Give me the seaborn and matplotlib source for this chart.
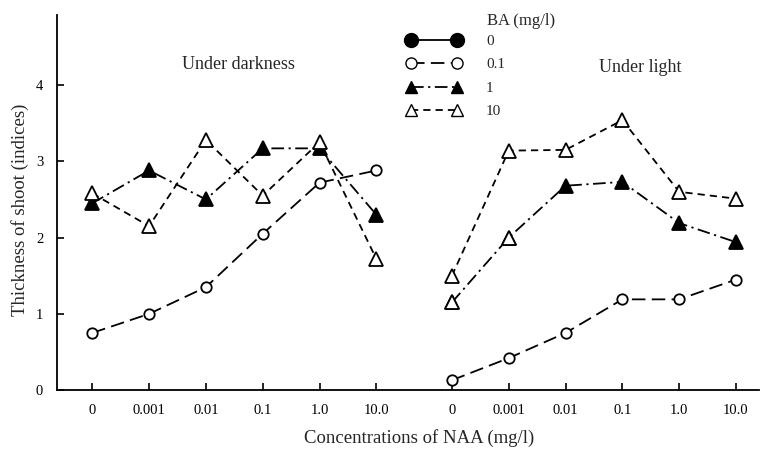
import numpy as np
import pandas as pd
import seaborn as sns
import matplotlib.pyplot as plt
from matplotlib.lines import Line2D

# NAA concentrations (tick labels), two panels
naa_labels = ["0", "0.001", "0.01", "0.1", "1.0", "10.0"]

# Under darkness
dark_ba01 = [0.75, 1.0, 1.35, 2.05, 2.72, 2.88]
dark_ba1 = [2.45, 2.88, 2.5, 3.17, 3.17, 2.3]
dark_ba10 = [2.58, 2.15, 3.28, 2.55, 3.25, 1.72]

# Under light
light_ba01 = [0.13, 0.42, 0.75, 1.19, 1.19, 1.45]
light_ba1 = [1.15, 2.0, 2.68, 2.73, 2.19, 1.94]
light_ba1_open = [True, True, False, False, False, False]
light_ba10 = [1.5, 3.14, 3.15, 3.54, 2.6, 2.51]

legend_labels = ["0", "0.1", "1", "10"]

sns.set_theme(style="white")
plt.rcParams["font.family"] = ["Liberation Serif", "DejaVu Serif"]

x_dark = np.arange(6)
x_light = np.arange(6) + 6.33

fig = plt.figure(figsize=(7.76, 4.51), dpi=100)
ax = fig.add_axes([0.0735, 0.135, 0.905, 0.832])

styles = {
    "0.1": dict(linestyle=(0, (7.5, 3.5)), marker="o", mfc="white"),
    "1": dict(linestyle=(0, (7, 2.5, 1.2, 2.5)), marker="^", mfc="black"),
    "10": dict(linestyle=(0, (4, 2.8)), marker="^", mfc="white"),
}
ms = {"o": 7.5, "^": 10.5}

series = [
    (x_dark, dark_ba01, "0.1"), (x_dark, dark_ba1, "1"), (x_dark, dark_ba10, "10"),
    (x_light, light_ba01, "0.1"), (x_light, light_ba1, "1"), (x_light, light_ba10, "10"),
]

for xs, ys, key in series:
    st = styles[key]
    sns.lineplot(x=xs, y=ys, ax=ax, color="black", linewidth=1.3,
                 linestyle=st["linestyle"], marker=st["marker"],
                 markersize=ms[st["marker"]], markerfacecolor=st["mfc"],
                 markeredgecolor="black", markeredgewidth=1.3)

# open triangles on the BA=1 light series
open_x = x_light[np.array(light_ba1_open)]
open_y = np.array(light_ba1)[np.array(light_ba1_open)]
ax.plot(open_x, open_y, linestyle="none", marker="^", markersize=10.5,
        markerfacecolor="white", markeredgecolor="black", markeredgewidth=1.3, zorder=5)

ax.set_xlim(-0.62, 11.74)
ax.set_ylim(0, 4.92)
ax.set_xticks(np.concatenate([x_dark, x_light]))
ax.set_xticklabels(naa_labels + naa_labels)
ax.set_yticks([0, 1, 2, 3, 4])
ax.tick_params(bottom=True, left=True, direction="in", length=5, width=1.2,
               colors="black", labelsize=10.5)
ax.tick_params(axis="x", pad=10)
ax.tick_params(axis="y", pad=10)

for s in ["top", "right"]:
    ax.spines[s].set_visible(False)
for s in ["left", "bottom"]:
    ax.spines[s].set_color("black")
    ax.spines[s].set_linewidth(1.3)

ax.set_ylabel("Thickness of shoot (indices)", fontsize=13.5)
ax.yaxis.set_label_coords(-0.04, 0.48)
ax.set_xlabel("Concentrations of NAA (mg/l)", fontsize=13.5)
ax.xaxis.set_label_coords(0.515, -0.103)

ax.text(2.57, 4.27, "Under darkness", fontsize=13, ha="center", va="center")
ax.text(9.65, 4.23, "Under light", fontsize=13, ha="center", va="center")

handles = [
    Line2D([], [], color="black", lw=1.3, linestyle="-", marker="o", markersize=10,
           markerfacecolor="black", markeredgecolor="black"),
    Line2D([], [], color="black", lw=1.3, linestyle=styles["0.1"]["linestyle"], marker="o",
           markersize=8, markerfacecolor="white", markeredgecolor="black"),
    Line2D([], [], color="black", lw=1.3, linestyle=styles["1"]["linestyle"], marker="^",
           markersize=9, markerfacecolor="black", markeredgecolor="black"),
    Line2D([], [], color="black", lw=1.3, linestyle=styles["10"]["linestyle"], marker="^",
           markersize=9, markerfacecolor="white", markeredgecolor="black"),
]
ax.legend(handles, legend_labels, loc="upper left",
          bbox_to_anchor=(0.478, 0.985), frameon=False, handlelength=3.6,
          handletextpad=1.6, labelspacing=0.64, fontsize=11, numpoints=2)
ax.text(0.612, 0.985, "BA (mg/l)", transform=ax.transAxes, fontsize=12,
        ha="left", va="center")

fig.savefig("out.png", dpi=100)
